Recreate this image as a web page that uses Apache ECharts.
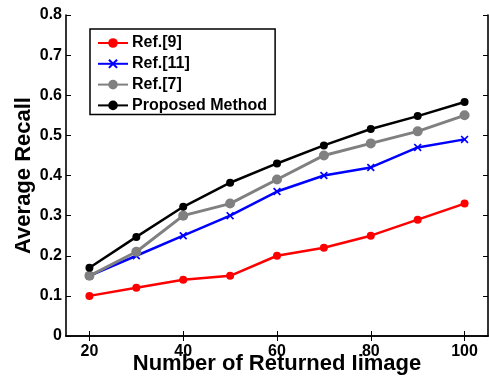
<!DOCTYPE html>
<html>
<head>
<meta charset="utf-8">
<script src="https://cdn.jsdelivr.net/npm/echarts@6/dist/echarts.min.js"></script>
<style>html,body{margin:0;padding:0;background:#fff;}#c{width:489px;height:378px;}</style>
</head>
<body>
<div id="c"></div>
<script>
const xValues = [20, 30, 40, 50, 60, 70, 80, 90, 100];
const xTicks = [20, 40, 60, 80, 100];
const yTicks = [0, 0.1, 0.2, 0.3, 0.4, 0.5, 0.6, 0.7, 0.8];
const ref9 = [0.10, 0.12, 0.14, 0.15, 0.20, 0.22, 0.25, 0.29, 0.33];
const ref11 = [0.15, 0.20, 0.25, 0.30, 0.36, 0.40, 0.42, 0.47, 0.49];
const ref7 = [0.15, 0.21, 0.30, 0.33, 0.39, 0.45, 0.48, 0.51, 0.55];
const proposed = [0.17, 0.247, 0.322, 0.382, 0.43, 0.475, 0.516, 0.548, 0.583];
const seriesNames = ['Ref.[9]', 'Ref.[11]', 'Ref.[7]', 'Proposed Method'];
const xTitle = 'Number of Returned Iimage';
const yTitle = 'Average Recall';

const FONT = '"Liberation Sans", Arial, sans-serif';
const pair = arr => arr.map((v, i) => [xValues[i], v]);
const xMark = 'path://M0,1.5L1.5,0L5,3.5L8.5,0L10,1.5L6.5,5L10,8.5L8.5,10L5,6.5L1.5,10L0,8.5L3.5,5Z';

const chart = echarts.init(document.getElementById('c'), null, {renderer: 'canvas'});
const axisLine = {show: true, lineStyle: {color: '#000', width: 1.6}};
const option = {
  backgroundColor: '#fff',
  animation: false,
  grid: {left: 66, right: 1, top: 15, bottom: 42, containLabel: false, outerBoundsMode: 'none'},
  legend: {
    left: 90, top: 29, orient: 'vertical',
    data: seriesNames,
    itemWidth: 30, itemHeight: 12, itemGap: 4.8,
    padding: [6, 8, 1, 7],
    borderColor: '#000', borderWidth: 1.5, backgroundColor: '#fff',
    textStyle: {fontFamily: FONT, fontWeight: 'bold', fontSize: 16, color: '#000', padding: [0, 0, 0, -1]}
  },
  xAxis: [{
    type: 'value', min: 15, max: 105, interval: 5,
    name: xTitle, nameLocation: 'middle', nameGap: 17, nameMoveOverlap: false,
    nameTextStyle: {fontFamily: FONT, fontWeight: 'bold', fontSize: 22, color: '#000'},
    axisLine: axisLine,
    axisTick: {show: true, inside: true, length: 5, customValues: xTicks, lineStyle: {color: '#000', width: 1}},
    axisLabel: {customValues: xTicks, margin: 8, fontFamily: FONT, fontWeight: 'bold', fontSize: 16, color: '#000'},
    splitLine: {show: false}
  }, {
    type: 'value', position: 'top', min: 15, max: 105, interval: 5,
    axisLine: axisLine,
    axisTick: {show: true, inside: true, length: 5, customValues: xTicks, lineStyle: {color: '#000', width: 1}},
    axisLabel: {show: false},
    splitLine: {show: false}
  }],
  yAxis: [{
    type: 'value', min: 0, max: 0.8, interval: 0.1,
    name: yTitle, nameLocation: 'middle', nameGap: 31, nameMoveOverlap: false,
    nameTextStyle: {fontFamily: FONT, fontWeight: 'bold', fontSize: 22, color: '#000'},
    axisLine: axisLine,
    axisTick: {show: true, inside: true, length: 5, lineStyle: {color: '#000', width: 1}},
    axisLabel: {margin: 4, fontFamily: FONT, fontWeight: 'bold', fontSize: 16, color: '#000',
      formatter: v => (v === 0 ? '0' : v.toFixed(1))},
    splitLine: {show: false}
  }, {
    type: 'value', position: 'right', min: 0, max: 0.8, interval: 0.1,
    axisLine: axisLine,
    axisTick: {show: true, inside: true, length: 5, lineStyle: {color: '#000', width: 1}},
    axisLabel: {show: false},
    splitLine: {show: false}
  }],
  series: [
    {name: seriesNames[0], type: 'line', data: pair(ref9), symbol: 'circle', symbolSize: 8,
      lineStyle: {color: '#ff0000', width: 2.5}, itemStyle: {color: '#ff0000'}},
    {name: seriesNames[1], type: 'line', data: pair(ref11), symbol: xMark, symbolSize: 8,
      lineStyle: {color: '#0000ff', width: 2.5}, itemStyle: {color: '#0000ff'}},
    {name: seriesNames[2], type: 'line', data: pair(ref7), symbol: 'circle', symbolSize: 10,
      lineStyle: {color: '#808080', width: 3}, itemStyle: {color: '#808080'}},
    {name: seriesNames[3], type: 'line', data: pair(proposed), symbol: 'circle', symbolSize: 8,
      lineStyle: {color: '#000000', width: 2.5}, itemStyle: {color: '#000000'}}
  ]
};
chart.setOption(option);
</script>
</body>
</html>
